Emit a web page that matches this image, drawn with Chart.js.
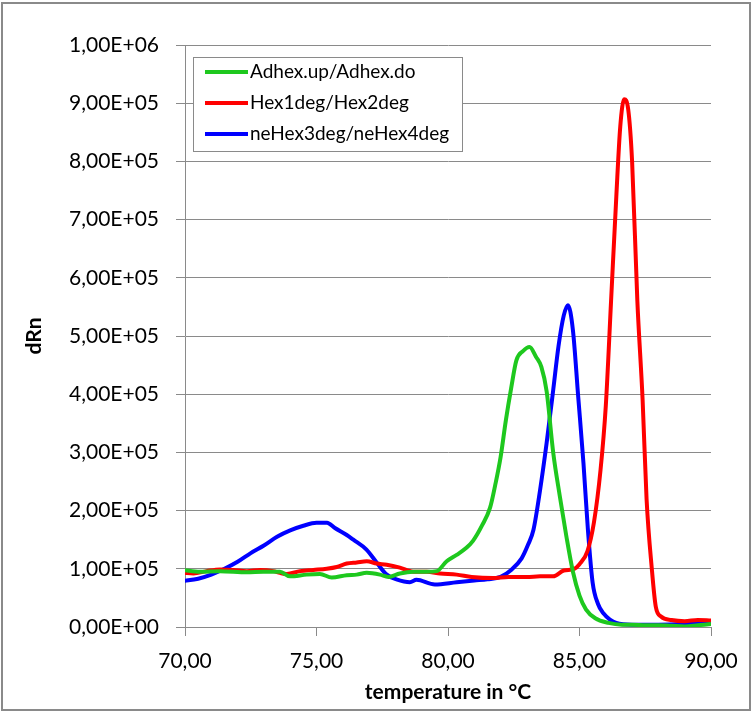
<!DOCTYPE html>
<html>
<head>
<meta charset="utf-8">
<script src="https://cdn.jsdelivr.net/npm/chart.js@4.4.0/dist/chart.umd.min.js"></script>
<style>
  body { margin: 0; background: #fff; }
  #wrap { width: 753px; height: 713px; }
</style>
</head>
<body>
<div id="wrap"><canvas id="graphique-dRn" width="753" height="713"></canvas></div>
<script>
// values, dRn in units of 1e5
const seriesNames = ["Adhex.up/Adhex.do", "Hex1deg/Hex2deg", "neHex3deg/neHex4deg"];

const tempGreen = [69.94, 70.57, 71.33, 72.35, 72.98, 73.61, 73.99, 74.63, 75.13, 75.58, 76.15, 76.53, 76.91, 77.41, 77.73, 78.17, 78.68, 79.19, 79.57, 79.95, 80.33, 80.7, 80.95, 81.3, 81.6, 81.8, 82.0, 82.2, 82.4, 82.6, 82.85, 83.1, 83.35, 83.55, 83.75, 84.0, 84.25, 84.5, 84.75, 85.0, 85.25, 85.6, 86.1, 86.6, 87, 87.5, 88, 88.5, 89, 89.5, 90];
const dRnGreen = [0.98, 0.95, 0.96, 0.94, 0.95, 0.95, 0.87, 0.9, 0.91, 0.85, 0.89, 0.9, 0.93, 0.9, 0.86, 0.92, 0.95, 0.95, 0.96, 1.13, 1.24, 1.36, 1.48, 1.75, 2.05, 2.45, 2.92, 3.55, 4.1, 4.58, 4.74, 4.81, 4.64, 4.47, 4.05, 3.0, 2.25, 1.56, 0.95, 0.54, 0.3, 0.15, 0.07, 0.04, 0.04, 0.03, 0.03, 0.02, 0.01, 0.03, 0.05];

const tempRed = [69.94, 70.32, 70.82, 71.33, 71.84, 72.35, 72.85, 73.36, 73.61, 73.87, 74.37, 74.88, 75.39, 75.77, 76.15, 76.53, 76.91, 77.29, 77.67, 78.17, 78.68, 79.19, 79.7, 80.33, 80.9, 81.7, 82.3, 83.0, 83.5, 84.0, 84.4, 84.8, 85.0, 85.3, 85.55, 85.8, 86.0, 86.2, 86.4, 86.55, 86.7, 86.85, 87.0, 87.2, 87.4, 87.55, 87.75, 87.9, 88.1, 88.5, 89, 89.5, 90];
const dRnRed = [0.93, 0.92, 0.96, 0.99, 0.98, 0.96, 0.98, 0.96, 0.93, 0.91, 0.96, 0.98, 1.0, 1.03, 1.09, 1.11, 1.13, 1.09, 1.07, 1.02, 0.95, 0.95, 0.92, 0.9, 0.86, 0.84, 0.86, 0.86, 0.87, 0.87, 0.97, 1.0, 1.08, 1.3, 1.8, 2.7, 3.8, 5.6, 7.4, 8.6, 9.07, 8.9, 8.0, 5.6, 3.9, 2.2, 1.0, 0.35, 0.18, 0.12, 0.1, 0.12, 0.11];

const tempBlue = [69.94, 70.5, 71, 71.5, 72, 72.5, 73, 73.5, 74, 74.5, 75, 75.4, 75.7, 76.15, 76.4, 76.9, 77.3, 77.67, 78.04, 78.55, 78.8, 79.5, 80.33, 81, 81.5, 82, 82.4, 82.8, 83.05, 83.25, 83.5, 83.75, 84.0, 84.2, 84.4, 84.56, 84.75, 84.95, 85.15, 85.32, 85.5, 85.7, 85.9, 86.4, 87, 88, 89, 90];
const dRnBlue = [0.79, 0.83, 0.9, 1.0, 1.12, 1.27, 1.4, 1.55, 1.66, 1.74, 1.79, 1.79, 1.7, 1.58, 1.5, 1.33, 1.1, 0.9, 0.82, 0.77, 0.81, 0.73, 0.77, 0.8, 0.82, 0.86, 0.98, 1.18, 1.42, 1.67, 2.35, 3.16, 4.07, 4.82, 5.35, 5.53, 5.1, 3.96, 2.82, 1.67, 0.76, 0.4, 0.24, 0.07, 0.04, 0.04, 0.05, 0.07];

const xTicks = [70, 75, 80, 85, 90];
const colors = ["rgb(30,200,30)", "rgb(255,0,0)", "rgb(0,0,255)"];

const FONT = "Lato, 'Open Sans', sans-serif";

function toPoints(temps, vals) {
    return temps.map((t, i) => ({ x: t, y: vals[i] * 1e5 }));
}

function sci(v) {
    if (v === 0) return "0,00E+00";
    const e = Math.floor(Math.log10(v) + 1e-9);
    const m = v / Math.pow(10, e);
    return m.toFixed(2).replace(".", ",") + "E+" + String(e).padStart(2, "0");
}

const cadre = {
    id: "cadre",
    beforeDraw(chart) {
        const ctx = chart.ctx;
        ctx.save();
        ctx.fillStyle = "#fff";
        ctx.fillRect(0, 0, chart.width, chart.height);
        ctx.restore();
    },
    afterDraw(chart) {
        const ctx = chart.ctx;
        ctx.save();
        // outer border
        ctx.strokeStyle = "#8a8a8a";
        ctx.lineWidth = 2;
        ctx.strokeRect(2, 3, 748, 707);

        // legend box
        ctx.fillStyle = "#fff";
        ctx.fillRect(193, 57, 269, 94);
        ctx.strokeStyle = "#8a8a8a";
        ctx.lineWidth = 1;
        ctx.strokeRect(193.5, 57.5, 269, 94);
        ctx.font = "19px " + FONT;
        ctx.textAlign = "left";
        ctx.textBaseline = "middle";
        chart.data.datasets.forEach((ds, i) => {
            const y = 72 + i * 31;
            ctx.strokeStyle = ds.borderColor;
            ctx.lineWidth = 4;
            ctx.beginPath();
            ctx.moveTo(205, y);
            ctx.lineTo(248, y);
            ctx.stroke();
            ctx.fillStyle = "#000";
            ctx.fillText(ds.label, 250, y);
        });
        ctx.restore();
    }
};

const data = {
    datasets: [
        { label: seriesNames[0], data: toPoints(tempGreen, dRnGreen), borderColor: colors[0] },
        { label: seriesNames[1], data: toPoints(tempRed, dRnRed), borderColor: colors[1] },
        { label: seriesNames[2], data: toPoints(tempBlue, dRnBlue), borderColor: colors[2] },
    ]
};

const config = {
    type: "line",
    data: data,
    options: {
        responsive: false,
        animation: false,
        layout: { padding: { left: 0, top: 45, right: 42, bottom: 0 } },
        elements: {
            point: { radius: 0 },
            line: { borderWidth: 4, cubicInterpolationMode: "monotone", fill: false }
        },
        plugins: {
            legend: { display: false },
            tooltip: { enabled: false }
        },
        scales: {
            x: {
                type: "linear",
                min: 70,
                max: 90,
                afterBuildTicks: (scale) => { scale.ticks = xTicks.map(v => ({ value: v })); },
                afterFit: (scale) => { scale.height = 86; },
                ticks: {
                    color: "#000",
                    font: { family: FONT, size: 21 },
                    padding: 13,
                    maxRotation: 0,
                    callback: (v) => v.toFixed(2).replace(".", ",")
                },
                grid: { drawOnChartArea: false, drawTicks: true, tickLength: 9, tickColor: "#8a8a8a" },
                border: { display: true, color: "#8a8a8a", width: 1 },
                title: {
                    display: true,
                    text: "temperature in °C",
                    color: "#000",
                    font: { family: FONT, size: 21, weight: "bold" },
                    padding: { top: 0, bottom: 8 }
                }
            },
            y: {
                min: 0,
                max: 1e6,
                afterFit: (scale) => { scale.width = 185; },
                ticks: {
                    stepSize: 1e5,
                    color: "#000",
                    font: { family: FONT, size: 21 },
                    padding: 17,
                    callback: (v) => sci(Math.round(v))
                },
                grid: { color: "#8a8a8a", tickLength: 9, tickColor: "#8a8a8a" },
                border: { display: true, color: "#8a8a8a", width: 1 },
                title: {
                    display: true,
                    text: "dRn",
                    color: "#000",
                    font: { family: FONT, size: 21, weight: "bold" },
                    padding: { top: 22, bottom: 0 }
                }
            }
        }
    },
    plugins: [cadre]
};

const graph = new Chart(document.querySelector("#graphique-dRn"), config);
</script>
</body>
</html>
